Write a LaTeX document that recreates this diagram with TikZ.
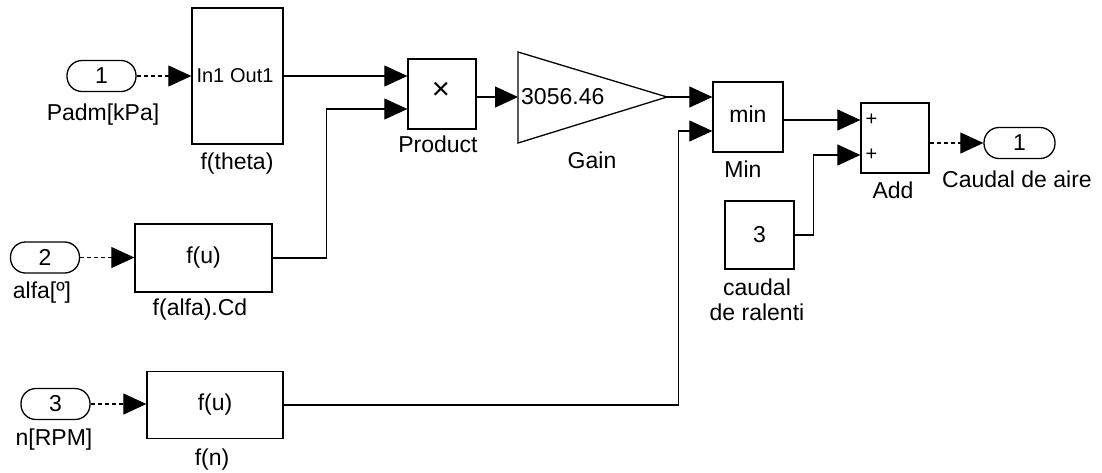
\documentclass[tikz,border=0pt]{standalone}
\usepackage{fontspec}
\setmainfont{Liberation Sans}
\usetikzlibrary{arrows.meta,calc}

\begin{document}
\begin{tikzpicture}[x=1pt,y=-1pt,
  blk/.style={draw,line width=1.3pt,inner sep=0pt,font=\fontsize{23}{26}\selectfont},
  port/.style={blk,rounded corners=15pt,minimum width=69pt,minimum height=31pt},
  wire/.style={line width=1.1pt,-{Triangle[length=23pt,width=21pt]}},
  dwire/.style={wire,dash pattern=on 4pt off 3pt},
  lbl/.style={anchor=base,inner sep=0pt,font=\fontsize{23}{26}\selectfont},
  txt/.style={inner sep=0pt,font=\fontsize{23}{26}\selectfont},
  small/.style={inner sep=0pt,font=\fontsize{20}{22}\selectfont},
  sign/.style={inner sep=0pt,font=\fontsize{20}{22}\selectfont}
]
\useasboundingbox[fill=white] (0,0) rectangle (1102,472);

% ---- input ports
\node[port] (in1) at (101.5,76) {1};
\node[lbl] (in1l) at (103,120) {Padm[kPa]};
\node[port] (in2) at (45,257.5) {2};
\node[lbl] (in2l) at (42,298) {alfa[º]};
\node[port] (in3) at (55.5,404) {3};
\node[lbl] (in3l) at (54,445) {n[RPM]};

% ---- f(theta) subsystem
\node[blk,minimum width=91pt,minimum height=136pt] (ft) at (237.5,76) {};
\node[small,anchor=west] (ftin) at ([xshift=5pt]ft.west) {In1};
\node[small,anchor=east] (ftout) at ([xshift=-10pt]ft.east) {Out1};
\node[lbl] (ftl) at (237,169) {f(theta)};

% ---- function blocks
\node[blk,minimum width=137pt,minimum height=68pt] (fa) at (203.5,258) {f(u)};
\node[lbl] (fal) at (200,315) {f(alfa).Cd};
\node[blk,minimum width=136pt,minimum height=67pt] (fn) at (215,405) {f(u)};
\node[lbl] (fnl) at (212,465) {f(n)};

% ---- product
\node[blk,minimum width=68pt,minimum height=70pt] (prod) at (442,94) {};
\node[inner sep=0pt,font=\fontsize{31}{32}\selectfont] (prodx) at (441,91) {×};
\node[lbl] (prodl) at (438,152) {Product};
\coordinate (p1) at ([yshift=18pt]prod.west);
\coordinate (p2) at ([yshift=-15pt]prod.west);
\coordinate (po) at ([yshift=-3pt]prod.east);

% ---- gain
\coordinate (gin) at (518,97);
\coordinate (gout) at (667,97);
\draw[line width=1.3pt] (518,52) -- (gout) -- (518,143) -- cycle;
\node[txt,anchor=west] (gval) at (521,97) {3056.46};
\node[lbl] (gl) at (592,168) {Gain};

% ---- min
\node[blk,minimum width=70pt,minimum height=70pt] (mn) at (748,117) {};
\node[txt] (mnt) at (748,114) {min};
\node[lbl] (mnl) at (743,177) {Min};
\coordinate (m2) at ([yshift=-14pt]mn.west);
\coordinate (mo) at ([yshift=-3pt]mn.east);

% ---- add
\node[blk,minimum width=68pt,minimum height=70pt] (add) at (895,138) {};
\node[lbl] (addl) at (893,198) {Add};
\coordinate (a1) at ([yshift=18pt]add.west);
\coordinate (a2) at ([yshift=-17pt]add.west);
\coordinate (ao) at ([yshift=-5pt]add.east);
\node[sign] (s1) at ([xshift=11pt]a1) {+};
\node[sign] (s2) at ([xshift=11pt]a2) {+};

% ---- constant
\node[blk,minimum width=69pt,minimum height=68pt] (cst) at (759.5,235) {3};
\node[lbl] (cstl1) at (757,295) {caudal};
\node[lbl] (cstl2) at (757,320) {de ralenti};

% ---- output port
\node[port,minimum width=71pt] (out1) at (1019.5,143) {1};
\node[lbl] (out1l) at (1017,187) {Caudal de aire};

% ---- signal lines
\draw[dwire] (in1.east) -- (ft.west);
\draw[dwire] (in2.east) -- (in2.east -| fa.west);
\draw[dwire] (in3.east) -- (in3.east -| fn.west);
\draw[wire] (ft.east) -- (p1);
\draw[wire] (fa.east) -- ++(54,0) |- (p2);
\draw[wire] (po) -- (gin);
\draw[wire] (gout) -- (gout -| mn.west);
\draw[wire] (fn.east) -- ++(395,0) |- (m2);
\draw[wire] (mo) -- (mo -| a1);
\draw[wire] (cst.east) -- ++(19,0) |- (a2);
\draw[dwire] (ao) -- (ao -| out1.west);
\end{tikzpicture}
\end{document}
